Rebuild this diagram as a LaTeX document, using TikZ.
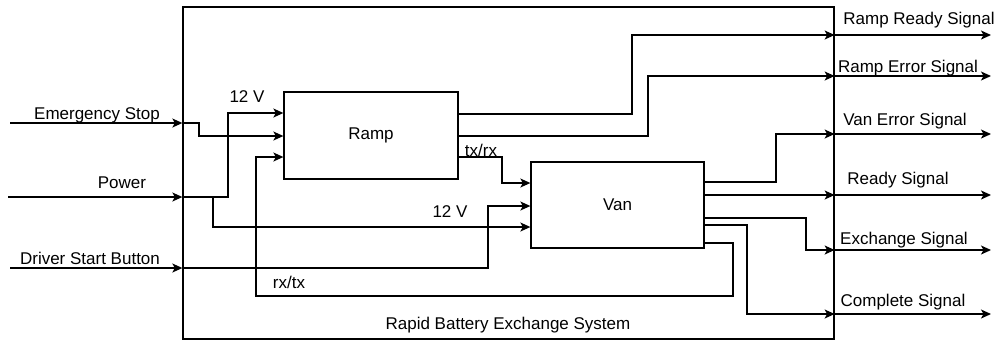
\documentclass[tikz,border=0pt]{standalone}
\usepackage{fontspec}
\setmainfont{Liberation Sans}
\usetikzlibrary{arrows.meta}
\begin{document}
\begin{tikzpicture}[x=1pt,y=-1pt,
 conn/.style={line width=1.3pt, line join=miter, -{Stealth[length=10pt,width=9pt,inset=2.5pt]}},
 blk/.style={draw, line width=1.3pt, inner sep=0pt},
 lbl/.style={font=\fontsize{17}{20}\selectfont, inner sep=0pt}]
\useasboundingbox (0,0) rectangle (997,341);
% blocks
\node[blk, minimum width=651pt, minimum height=332pt] (sys) at (508.5,173) {};
\node[blk, lbl, minimum width=174pt, minimum height=87pt] (ramp) at (371,135.5) {Ramp};
\node[blk, lbl, minimum width=173pt, minimum height=86pt] (van) at (617.5,205) {Van};
\node[lbl] (sysl) at (508,325) {Rapid Battery Exchange System};
% external inputs
\coordinate (es0) at (10,123);
\coordinate (es1) at (sys.west |- 0,123);
\coordinate (pw0) at (8,197);
\coordinate (pw1) at (sys.west |- 0,197);
\coordinate (ds0) at (10,268);
\coordinate (ds1) at (sys.west |- 0,268);
\draw[conn] (es0) -- (es1);
\draw[conn] (pw0) -- (pw1);
\draw[conn] (ds0) -- (ds1);
\node[lbl] (esl) at (97,115) {Emergency Stop};
\node[lbl] (pwl) at (122,183) {Power};
\node[lbl] (dsl) at (90,258) {Driver Start Button};
% internal wiring
\draw[conn] (es1) -- (199,123) -- (199,136) -- (ramp.west |- 0,136);
\draw[conn] (pw1) -- (228,197) -- (228,113) -- (ramp.west |- 0,113);
\draw[conn] (pw1) -- (213,197) -- (213,227) -- (van.west |- 0,227);
\draw[conn] (ds1) -- (488,268) -- (488,206) -- (van.west |- 0,206);
\draw[conn] (van.east |- 0,243) -- (733,243) -- (733,296) -- (256,296) -- (256,157) -- (ramp.west |- 0,157);
\draw[conn] (ramp.east |- 0,157) -- (502,157) -- (502,183) -- (van.west |- 0,183);
\node[lbl] (v12a) at (247,97) {12 V};
\node[lbl] (v12b) at (450,212) {12 V};
\node[lbl] (rxtx) at (289,282) {rx/tx};
\node[lbl] (txrx) at (481,150) {tx/rx};
% outputs to system boundary
\coordinate (o1) at (sys.east |- 0,35);
\coordinate (o2) at (sys.east |- 0,76);
\coordinate (o3) at (sys.east |- 0,134);
\coordinate (o4) at (sys.east |- 0,195);
\coordinate (o5) at (sys.east |- 0,250);
\coordinate (o6) at (sys.east |- 0,314);
\draw[conn] (ramp.east |- 0,114) -- (632,114) -- (632,35) -- (o1);
\draw[conn] (ramp.east |- 0,136) -- (648,136) -- (648,76) -- (o2);
\draw[conn] (van.east |- 0,182) -- (776,182) -- (776,134) -- (o3);
\draw[conn] (van.east |- 0,195) -- (o4);
\draw[conn] (van.east |- 0,218) -- (806,218) -- (806,250) -- (o5);
\draw[conn] (van.east |- 0,225) -- (747,225) -- (747,314) -- (o6);
% external outputs
\coordinate (e1) at (991,35);
\coordinate (e2) at (991,76);
\coordinate (e3) at (991,134);
\coordinate (e4) at (991,195);
\coordinate (e5) at (991,250);
\coordinate (e6) at (991,314);
\draw[conn] (o1) -- (e1);
\draw[conn] (o2) -- (e2);
\draw[conn] (o3) -- (e3);
\draw[conn] (o4) -- (e4);
\draw[conn] (o5) -- (e5);
\draw[conn] (o6) -- (e6);
\node[lbl] (l1) at (919,20) {Ramp Ready Signal};
\node[lbl] (l2) at (908,68) {Ramp Error Signal};
\node[lbl] (l3) at (905,121) {Van Error Signal};
\node[lbl] (l4) at (898,180) {Ready Signal};
\node[lbl] (l5) at (904,240) {Exchange Signal};
\node[lbl] (l6) at (903,302) {Complete Signal};
\end{tikzpicture}
\end{document}
